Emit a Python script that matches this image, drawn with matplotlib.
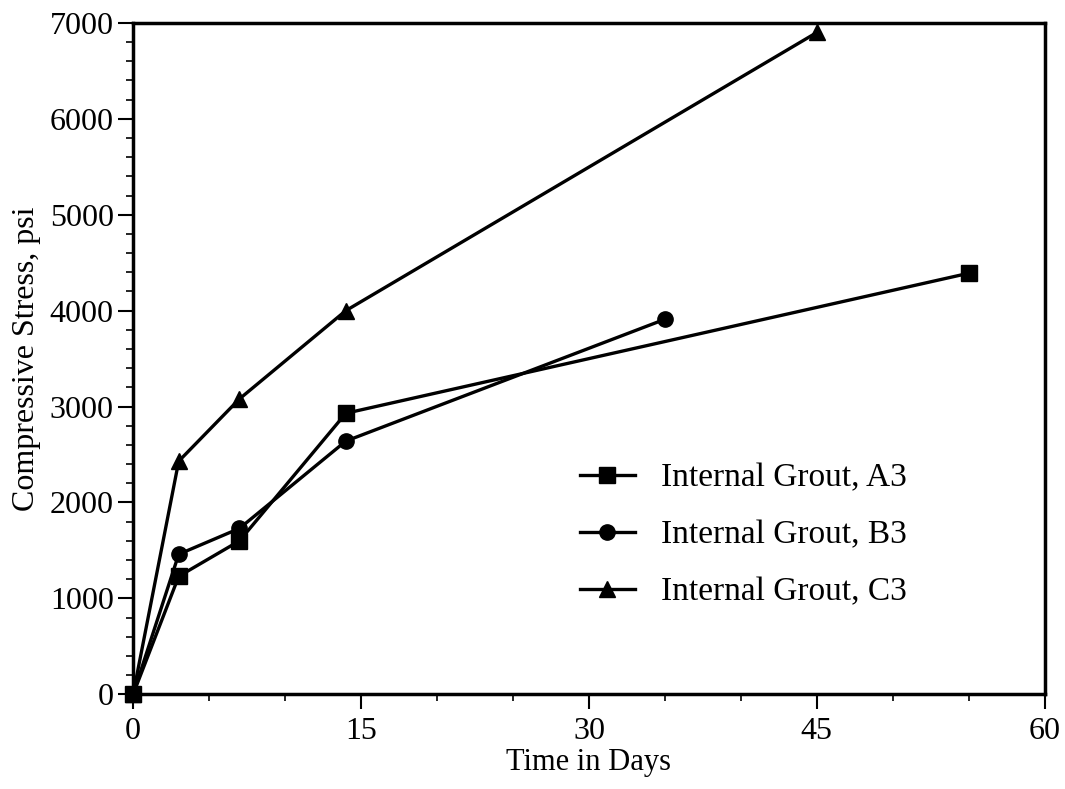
import matplotlib
matplotlib.use("Agg")
from matplotlib import pyplot as plt
from matplotlib.ticker import MultipleLocator

plt.rcParams['font.family'] = ['Liberation Serif', 'DejaVu Serif']

# compressive strength of the three internal grout mixes
days_a3 = [0, 3, 7, 14, 55]
stress_a3 = [0, 1230, 1600, 2930, 4390]

days_b3 = [0, 3, 7, 14, 35]
stress_b3 = [0, 1460, 1730, 2640, 3910]

days_c3 = [0, 3, 7, 14, 45]
stress_c3 = [0, 2430, 3080, 4000, 6900]

labels = ['Internal Grout, A3', 'Internal Grout, B3', 'Internal Grout, C3']


def make_plot():
    fig = plt.figure(figsize=(10.65, 7.89), dpi=100)
    ax = fig.add_axes([0.125, 0.120, 0.856, 0.851])

    style = dict(color='black', linewidth=2.4, clip_on=False)
    ax.plot(days_a3, stress_a3, marker='s', markersize=11, label=labels[0], **style)
    ax.plot(days_b3, stress_b3, marker='o', markersize=11, label=labels[1], **style)
    ax.plot(days_c3, stress_c3, marker='^', markersize=12, label=labels[2], **style)

    ax.set_xlim(0, 60)
    ax.set_ylim(0, 7000)
    ax.xaxis.set_major_locator(MultipleLocator(15))
    ax.xaxis.set_minor_locator(MultipleLocator(5))
    ax.yaxis.set_major_locator(MultipleLocator(1000))
    ax.yaxis.set_minor_locator(MultipleLocator(200))

    for side in ax.spines.values():
        side.set_linewidth(2.5)
    ax.tick_params(which='major', direction='out', length=11, width=1.5,
                   labelsize=23, pad=3)
    ax.tick_params(which='minor', direction='out', length=5, width=1.2)
    ax.tick_params(axis='x', which='major', pad=5)

    ax.set_xlabel('Time in Days', fontsize=22, labelpad=2)
    ax.set_ylabel('Compressive Stress, psi', fontsize=23, labelpad=6)

    ax.legend(loc='upper left', bbox_to_anchor=(0.49, 0.345), frameon=False,
              fontsize=24, handlelength=1.65, handletextpad=0.8,
              labelspacing=0.8, borderpad=0, borderaxespad=0)

    fig.savefig('out.png', dpi=100)


if __name__ == '__main__':
    make_plot()
